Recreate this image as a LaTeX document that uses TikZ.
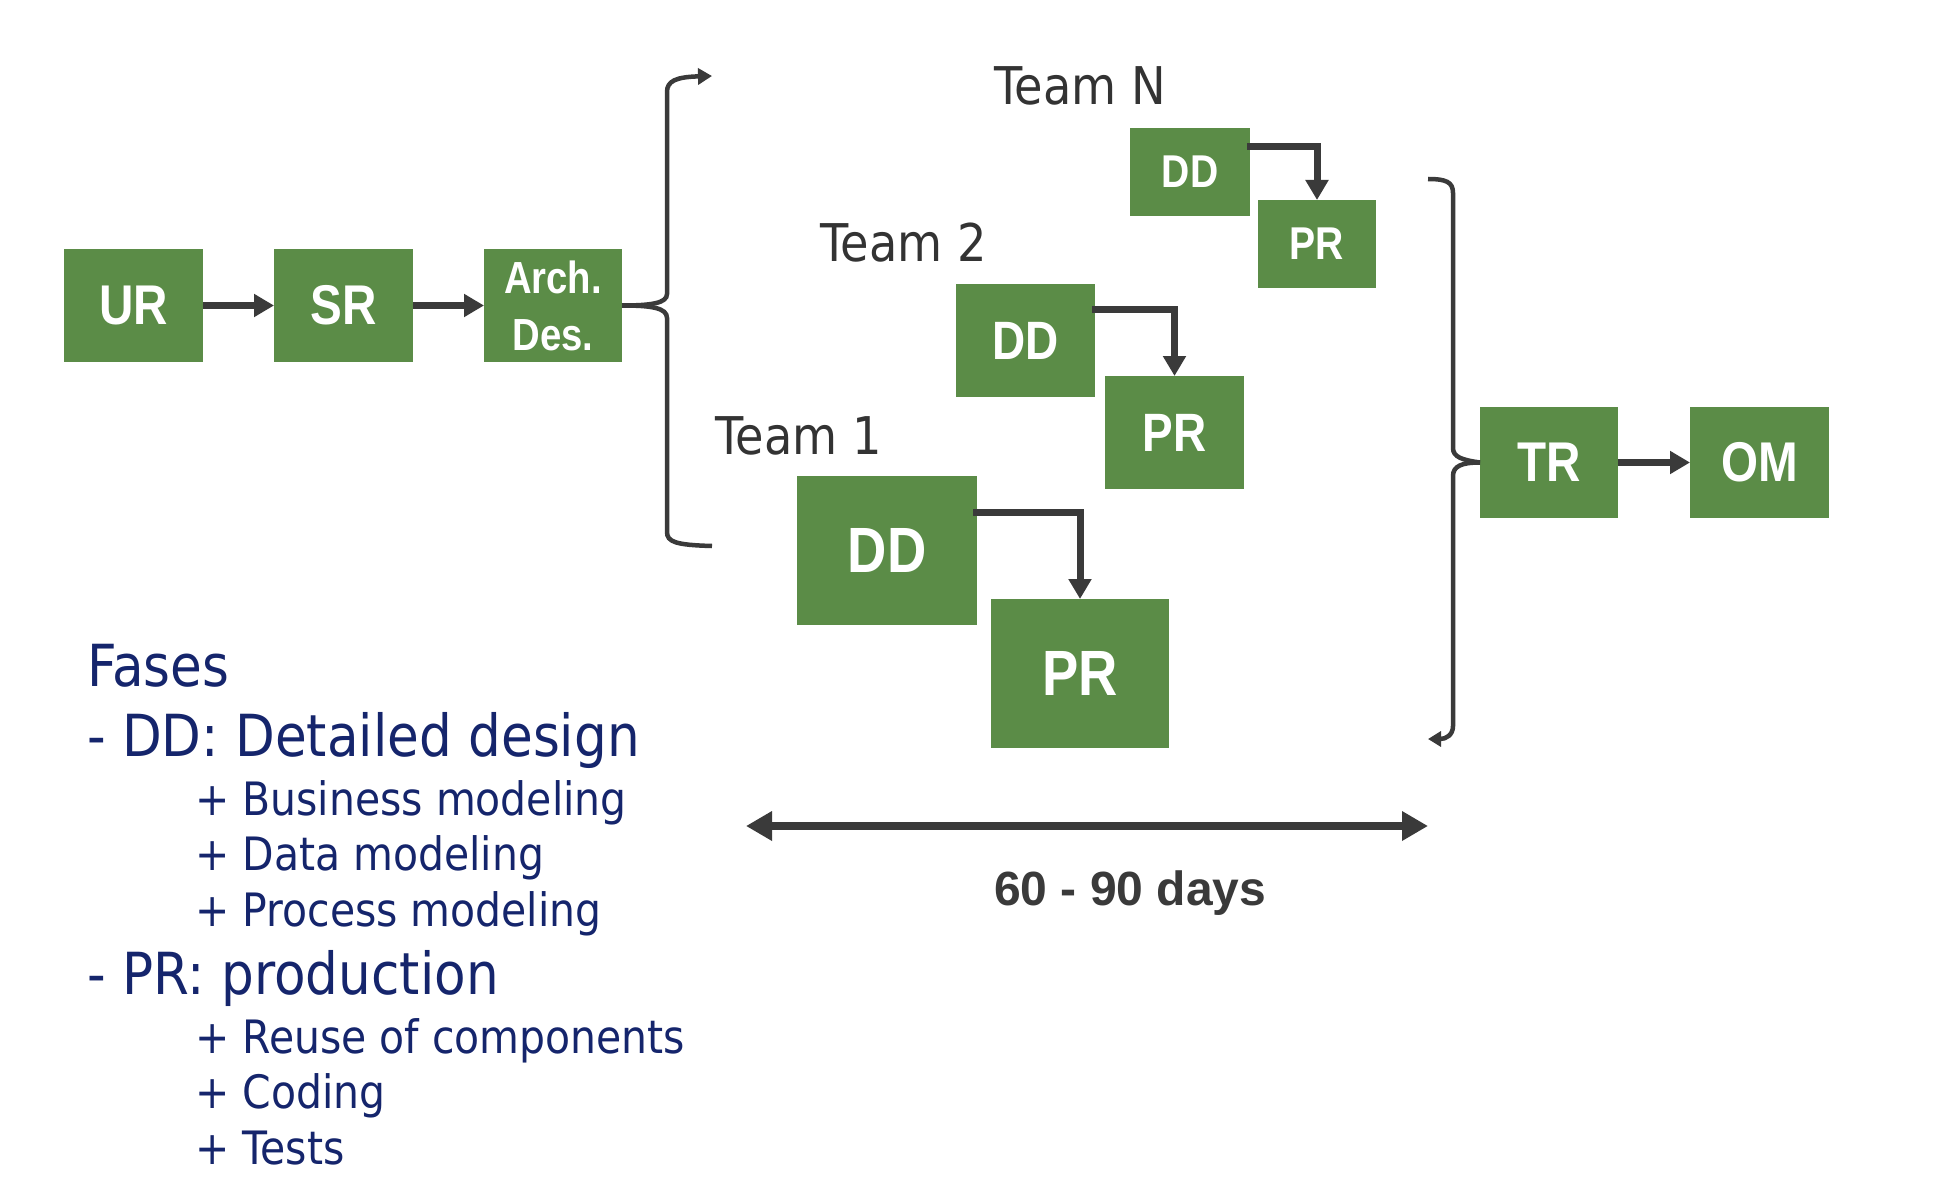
\documentclass[tikz,border=0pt]{standalone}
\usepackage{fontspec}
\usetikzlibrary{arrows.meta}
\newfontfamily\boxfont{Liberation Sans}[FakeStretch=0.85]
\newfontfamily\tahoma{DejaVu Sans}[FakeStretch=0.89]
\newfontfamily\daysfont{Liberation Sans}
\definecolor{boxgreen}{HTML}{5B8C47}
\definecolor{linegray}{HTML}{3A3A3A}
\definecolor{navy}{HTML}{15256C}
\definecolor{teamgray}{HTML}{333333}
\tikzset{
  gbox/.style={fill=boxgreen, text=white, inner sep=0pt, outer sep=0pt},
  conn/.style={draw=linegray, line width=7pt, -{Triangle[length=20pt,width=22pt]}},
  brace/.style={draw=linegray, line width=4.5pt},
  teamlbl/.style={anchor=base west, inner sep=0pt, text=teamgray, font=\tahoma\fontsize{52}{60}\selectfont},
  bigitem/.style={anchor=base west, inner sep=0pt, text=navy, font=\tahoma\fontsize{58}{70}\selectfont},
  subitem/.style={anchor=base west, inner sep=0pt, text=navy, font=\tahoma\fontsize{46}{54}\selectfont},
}
\begin{document}
\begin{tikzpicture}[x=1pt,y=-1pt]
\useasboundingbox[fill=white] (0,0) rectangle (1944,1190);

% top chain
\node[gbox, minimum width=139pt, minimum height=113pt, font=\boxfont\bfseries\fontsize{56}{60}\selectfont] (UR) at (133.5,305.5) {UR};
\node[gbox, minimum width=139pt, minimum height=113pt, font=\boxfont\bfseries\fontsize{56}{60}\selectfont] (SR) at (343.5,305.5) {SR};
\node[gbox, minimum width=138pt, minimum height=113pt, align=center, font=\boxfont\bfseries\fontsize{45}{57}\selectfont] (Arch) at (553,305.5) {Arch.\\Des.};
\draw[conn] (UR.east) -- (SR.west);
\draw[conn] (SR.east) -- (Arch.west);

% team N
\node[teamlbl] (teamN) at (994,105) {Team N};
\node[gbox, minimum width=120pt, minimum height=88pt, font=\boxfont\bfseries\fontsize{46}{50}\selectfont] (DDN) at (1190,172) {DD};
\node[gbox, minimum width=118pt, minimum height=88pt, font=\boxfont\bfseries\fontsize{46}{50}\selectfont] (PRN) at (1317,244) {PR};
\draw[conn] ([xshift=-3pt,yshift=-19pt]DDN.north east) -| (PRN.north);

% team 2
\node[teamlbl] (team2) at (820,262) {Team 2};
\node[gbox, minimum width=139pt, minimum height=113pt, font=\boxfont\bfseries\fontsize{54}{60}\selectfont] (DD2) at (1025.5,340.5) {DD};
\node[gbox, minimum width=139pt, minimum height=113pt, font=\boxfont\bfseries\fontsize{54}{60}\selectfont] (PR2) at (1174.5,432.5) {PR};
\draw[conn] ([xshift=-3pt,yshift=-26pt]DD2.north east) -| (PR2.north);

% team 1
\node[teamlbl] (team1) at (715,454) {Team 1};
\node[gbox, minimum width=180pt, minimum height=149pt, font=\boxfont\bfseries\fontsize{64}{70}\selectfont] (DD1) at (887,550.5) {DD};
\node[gbox, minimum width=178pt, minimum height=149pt, font=\boxfont\bfseries\fontsize{64}{70}\selectfont] (PR1) at (1080,673.5) {PR};
\draw[conn] ([xshift=-4pt,yshift=-36pt]DD1.north east) -| (PR1.north);

% left bracket
\coordinate (LBtop) at (712,76);
\coordinate (LBbot) at (712,546);
\draw[brace, -{Triangle[length=14pt,width=16pt]}] (Arch.east) .. controls (652,305.5) and (667,303) .. (667,294) -- (667,92) .. controls (667,81) and (676,77) .. (LBtop);
\draw[brace] (Arch.east) .. controls (652,305.5) and (667,308) .. (667,318) -- (667,532) .. controls (667,542) and (676,545) .. (LBbot);

% TR, OM
\node[gbox, minimum width=138pt, minimum height=111pt, font=\boxfont\bfseries\fontsize{56}{60}\selectfont] (TR) at (1549,462.5) {TR};
\node[gbox, minimum width=139pt, minimum height=111pt, font=\boxfont\bfseries\fontsize{56}{60}\selectfont] (OM) at (1759.5,462.5) {OM};
\draw[conn] (TR.east) -- (OM.west);

% right bracket
\coordinate (RBtop) at (1428,179);
\coordinate (RBbot) at (1428,739);
\draw[brace] (RBtop) .. controls (1446,179) and (1453,182) .. (1453,193) -- (1453,448) .. controls (1453,457) and (1462,460) .. (TR.west);
\draw[brace, -{Triangle[length=13pt,width=15pt]}] (TR.west) .. controls (1462,462.5) and (1453,466) .. (1453,476) -- (1453,726) .. controls (1453,735) and (1446,739) .. (RBbot);

% duration arrow
\coordinate (DAl) at (746,826);
\coordinate (DAr) at (1428,826);
\draw[draw=linegray, line width=8pt, {Triangle[length=26pt,width=28pt]}-{Triangle[length=26pt,width=28pt]}] (DAl) -- (DAr);
\node[anchor=base west, inner sep=0pt, text=linegray, font=\daysfont\bfseries\fontsize{48}{56}\selectfont] (days) at (994,905) {60 - 90 days};

% legend
\node[bigitem] (fases) at (87,686) {Fases};
\node[bigitem] (ddl) at (87,756) {- DD: Detailed design};
\node[subitem] (b1) at (195,815) {+ Business modeling};
\node[subitem] (b2) at (195,870) {+ Data modeling};
\node[subitem] (b3) at (195,926) {+ Process modeling};
\node[bigitem] (prl) at (87,994) {- PR: production};
\node[subitem] (c1) at (195,1053) {+ Reuse of components};
\node[subitem] (c2) at (195,1108) {+ Coding};
\node[subitem] (c3) at (195,1164) {+ Tests};
\end{tikzpicture}
\end{document}
